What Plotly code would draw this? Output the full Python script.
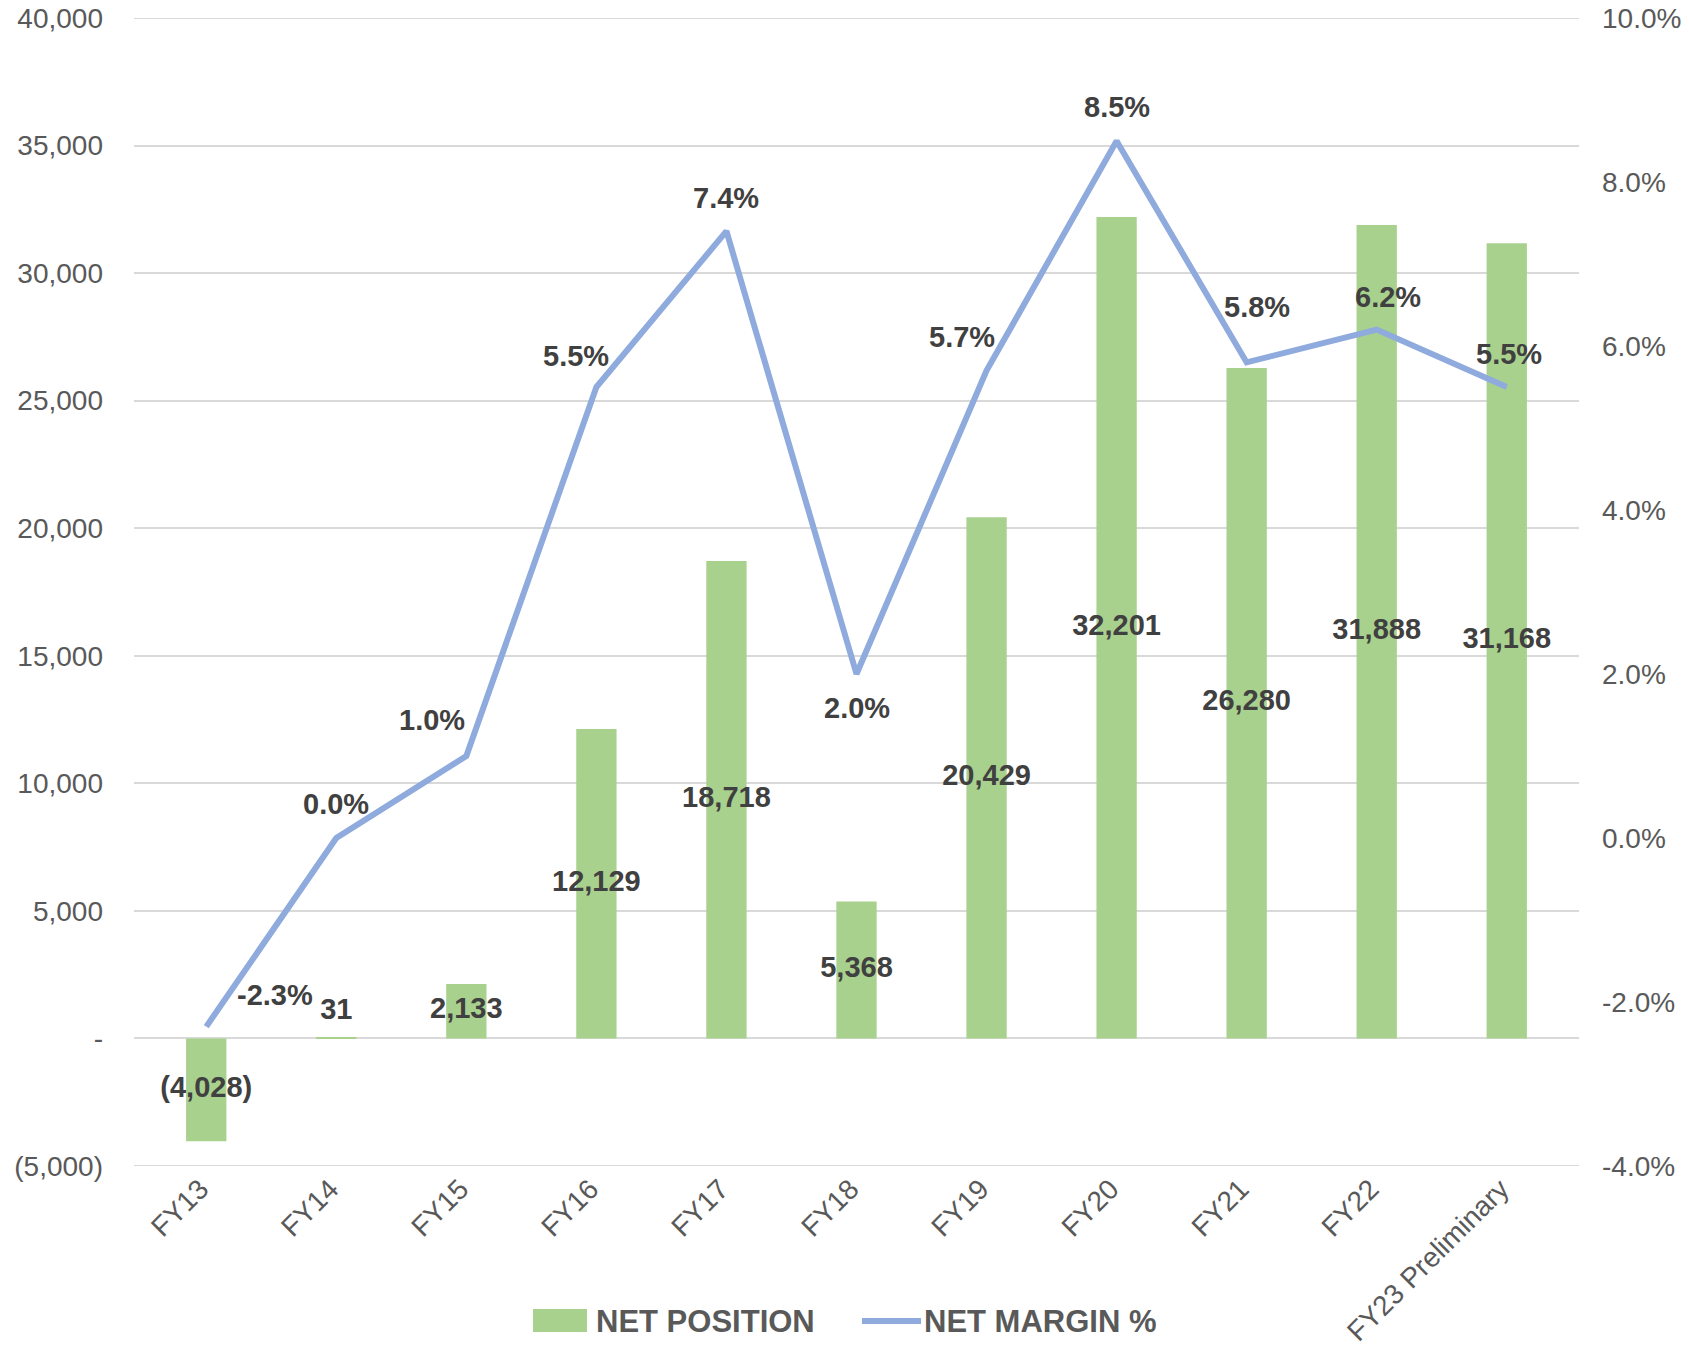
import plotly.graph_objects as go

categories = ["FY13", "FY14", "FY15", "FY16", "FY17", "FY18", "FY19", "FY20", "FY21", "FY22", "FY23 Preliminary"]
net_position = [-4028, 31, 2133, 12129, 18718, 5368, 20429, 32201, 26280, 31888, 31168]
net_margin = [-2.3, 0.0, 1.0, 5.5, 7.4, 2.0, 5.7, 8.5, 5.8, 6.2, 5.5]

left_tickvals = [-5000, 0, 5000, 10000, 15000, 20000, 25000, 30000, 35000, 40000]
left_ticktext = ["(5,000)", "-", "5,000", "10,000", "15,000", "20,000", "25,000", "30,000", "35,000", "40,000"]
right_tickvals = [-4, -2, 0, 2, 4, 6, 8, 10]
right_ticktext = ["-4.0%", "-2.0%", "0.0%", "2.0%", "4.0%", "6.0%", "8.0%", "10.0%"]


def fmt_num(v):
    s = f"{abs(v):,}"
    return f"({s})" if v < 0 else s


bar_labels = [fmt_num(v) for v in net_position]
bar_label_y = [v / 2 if v < 0 else max(v / 2, 1066) for v in net_position]
margin_labels = [f"{v:.1f}%" for v in net_margin]
# pixel offsets of the margin labels relative to their points (style only)
label_dx = [69, 0, -34, -20, 0, 0, -25, 0, 10, 11, 2]
label_dy = [32, 34, 36, 31, 33, -34, 34, 34, 55, 33, 33]

FONT = "Liberation Sans, Arial, sans-serif"
TICK_COLOR = "#595959"
LABEL_COLOR = "#404040"
GREEN = "#A9D18E"
BLUE = "#8FAADC"
GRID = "#D9D9D9"

fig = go.Figure()

fig.add_trace(go.Bar(
    x=categories, y=net_position, name="NET POSITION",
    marker=dict(color=GREEN, line=dict(width=0)),
    yaxis="y", showlegend=False,
))

fig.add_trace(go.Scatter(
    x=categories, y=bar_label_y, mode="text", text=bar_labels,
    textfont=dict(family=FONT, size=29, color=LABEL_COLOR, weight="bold"),
    showlegend=False, hoverinfo="skip", yaxis="y",
))

fig.add_trace(go.Scatter(
    x=categories, y=net_margin, name="NET MARGIN %",
    mode="lines",
    line=dict(color=BLUE, width=6),
    yaxis="y2", showlegend=False,
))

for c, v, t, dx, dy in zip(categories, net_margin, margin_labels, label_dx, label_dy):
    fig.add_annotation(x=c, y=v, xref="x", yref="y2", text=t, showarrow=False,
                       xshift=dx, yshift=dy,
                       font=dict(family=FONT, size=29, color=LABEL_COLOR, weight="bold"))

# edge gridlines (plotly drops gridlines lying exactly on the plot edges)
for edge in (left_tickvals[0], left_tickvals[-1]):
    fig.add_shape(type="line", xref="paper", yref="y", x0=0, x1=1, y0=edge, y1=edge,
                  line=dict(color=GRID, width=2), layer="below")

# legend drawn manually (wide swatch like the original)
PW, PH, PL, PB = 1445, 1148, 134, 1166
fig.add_shape(type="rect", xref="paper", yref="paper",
              x0=(533 - PL) / PW, x1=(587 - PL) / PW,
              y0=-(1332 - PB) / PH, y1=-(1309 - PB) / PH,
              fillcolor=GREEN, line=dict(width=0))
fig.add_annotation(xref="paper", yref="paper", x=(594 - PL) / PW, y=-(1321 - PB) / PH,
                   xanchor="left", yanchor="middle", text="NET POSITION", showarrow=False,
                   font=dict(family=FONT, size=31, color=TICK_COLOR, weight="bold"))
fig.add_shape(type="line", xref="paper", yref="paper",
              x0=(862 - PL) / PW, x1=(921 - PL) / PW,
              y0=-(1321 - PB) / PH, y1=-(1321 - PB) / PH,
              line=dict(color=BLUE, width=6))
fig.add_annotation(xref="paper", yref="paper", x=(922 - PL) / PW, y=-(1321 - PB) / PH,
                   xanchor="left", yanchor="middle", text="NET MARGIN %", showarrow=False,
                   font=dict(family=FONT, size=31, color=TICK_COLOR, weight="bold"))

fig.update_layout(
    width=1689, height=1356,
    margin=dict(l=134, r=110, t=18, b=190, autoexpand=False),
    plot_bgcolor="white", paper_bgcolor="white",
    font=dict(family=FONT, color=TICK_COLOR, size=28),
    bargap=0.69,
    showlegend=False,
    xaxis=dict(type="category", tickangle=-45, showgrid=False, showline=False, zeroline=False,
               automargin=False, ticklabelshift=-6,
               tickfont=dict(family=FONT, size=28, color=TICK_COLOR), ticks=""),
    yaxis=dict(range=[-5000, 40000], tickvals=left_tickvals, ticktext=left_ticktext,
               showgrid=True, gridcolor=GRID, gridwidth=2, zeroline=False, showline=False,
               automargin=False, ticklabeloverflow="allow",
               tickfont=dict(family=FONT, size=28, color=TICK_COLOR), ticklabelstandoff=30),
    yaxis2=dict(range=[-4, 10], tickvals=right_tickvals, ticktext=right_ticktext,
                overlaying="y", side="right", showgrid=False, zeroline=False, showline=False,
                automargin=False, ticklabeloverflow="allow",
                tickfont=dict(family=FONT, size=28, color=TICK_COLOR), ticklabelstandoff=22),
)

fig.write_html("out.html", config={"displayModeBar": False},
               post_script="document.body.style.margin='0';")
